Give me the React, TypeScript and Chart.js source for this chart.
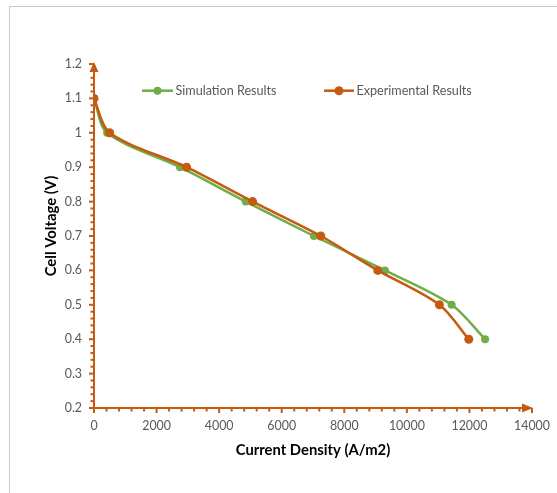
import React, { useEffect, useRef } from "react";
import { Chart, registerables } from "chart.js";

Chart.register(...registerables);

// ---- Data ----
const simCurrent = [0, 420, 2750, 4850, 7030, 9300, 11430, 12500];
const simVoltage = [1.1, 1.0, 0.9, 0.8, 0.7, 0.6, 0.5, 0.4];
const expCurrent = [0, 500, 2960, 5070, 7250, 9070, 11040, 11980];
const expVoltage = [1.1, 1.0, 0.9, 0.8, 0.7, 0.6, 0.5, 0.4];
const seriesNames = ["Simulation Results", "Experimental Results"];
const xTitle = "Current Density (A/m2)";
const yTitle = "Cell Voltage (V)";
const xMin = 0;
const xMax = 14000;
const xStep = 2000;
const xMinorStep = 400;
const yMin = 0.2;
const yMax = 1.2;
const yStep = 0.1;
const yMinorStep = 0.02;

const GREEN = "#70AD47";
const ORANGE = "#C55A11";
const FONT = "Lato, 'Open Sans', sans-serif";

const decorPlugin = {
  id: "decor",
  beforeDatasetsDraw(chart: any) {
    const { ctx, chartArea: ca, scales } = chart;
    const x = scales.x;
    const y = scales.y;
    const x0 = x.getPixelForValue(xMin);
    const y0 = y.getPixelForValue(yMin);
    ctx.save();
    ctx.strokeStyle = ORANGE;
    ctx.fillStyle = ORANGE;
    ctx.lineWidth = 2;
    ctx.lineCap = "butt";
    // x axis line
    ctx.beginPath();
    ctx.moveTo(x0 - 1, y0);
    ctx.lineTo(ca.right - 6, y0);
    ctx.stroke();
    ctx.beginPath();
    ctx.moveTo(ca.right + 1, y0);
    ctx.lineTo(ca.right - 10, y0 - 4.5);
    ctx.lineTo(ca.right - 10, y0 + 4.5);
    ctx.closePath();
    ctx.fill();
    // y axis line
    ctx.beginPath();
    ctx.moveTo(x0, y0 + 1);
    ctx.lineTo(x0, ca.top + 4);
    ctx.stroke();
    ctx.beginPath();
    ctx.moveTo(x0, ca.top - 2);
    ctx.lineTo(x0 - 4.5, ca.top + 8);
    ctx.lineTo(x0 + 4.5, ca.top + 8);
    ctx.closePath();
    ctx.fill();
    // x ticks
    const nx = Math.round((xMax - xMin) / xMinorStep);
    const perMajorX = Math.round(xStep / xMinorStep);
    for (let i = 0; i <= nx; i++) {
      const px = x.getPixelForValue(xMin + i * xMinorStep);
      if (i % perMajorX === 0) {
        ctx.fillRect(px - 1, y0, 2, 5);
      } else {
        ctx.fillRect(px - 1, y0 + 1, 2, 2.5);
      }
    }
    // y ticks
    const ny = Math.round((yMax - yMin) / yMinorStep);
    const perMajorY = Math.round(yStep / yMinorStep);
    for (let i = 0; i <= ny; i++) {
      const py = y.getPixelForValue(yMin + i * yMinorStep);
      if (i % perMajorY === 0) {
        ctx.fillRect(x0 - 5, py - 1, 5, 2);
      } else {
        ctx.fillRect(x0 - 3.5, py - 1, 2.5, 2);
      }
    }
    ctx.restore();
  },
  afterDraw(chart: any) {
    const { ctx, chartArea: ca } = chart;
    ctx.save();
    // legend
    const ly = 90.7;
    const items = [
      { color: GREEN, x1: 142, x2: 173, r: 4, tx: 175.5, label: seriesNames[0] },
      { color: ORANGE, x1: 324, x2: 354, r: 4.5, tx: 356.5, label: seriesNames[1] },
    ];
    ctx.font = `12.6px ${FONT}`;
    ctx.textBaseline = "middle";
    ctx.textAlign = "left";
    for (const it of items) {
      ctx.strokeStyle = it.color;
      ctx.fillStyle = it.color;
      ctx.lineWidth = 2.5;
      ctx.beginPath();
      ctx.moveTo(it.x1, ly);
      ctx.lineTo(it.x2, ly);
      ctx.stroke();
      ctx.beginPath();
      ctx.arc((it.x1 + it.x2) / 2, ly, it.r, 0, Math.PI * 2);
      ctx.fill();
      ctx.fillStyle = "#595959";
      ctx.fillText(it.label, it.tx, ly + 0.5);
    }
    // axis titles
    ctx.fillStyle = "#000000";
    ctx.font = `bold 14.8px ${FONT}`;
    ctx.textAlign = "center";
    ctx.textBaseline = "middle";
    ctx.fillText(xTitle, (ca.left + ca.right) / 2, 450.5);
    ctx.translate(51.5, 226);
    ctx.rotate(-Math.PI / 2);
    ctx.fillText(yTitle, 0, 0);
    ctx.restore();
  },
};

export default function App() {
  const ref = useRef<HTMLCanvasElement | null>(null);
  useEffect(() => {
    if (!ref.current) return;
    const chart = new Chart(ref.current, {
      type: "line",
      data: {
        datasets: [
          {
            label: seriesNames[0],
            data: simCurrent.map((v, i) => ({ x: v, y: simVoltage[i] })),
            borderColor: GREEN,
            backgroundColor: GREEN,
            pointBackgroundColor: GREEN,
            pointBorderColor: GREEN,
            borderWidth: 2.5,
            pointRadius: 4,
            pointBorderWidth: 0,
            tension: 0.3,
            fill: false,
            order: 1,
          },
          {
            label: seriesNames[1],
            data: expCurrent.map((v, i) => ({ x: v, y: expVoltage[i] })),
            borderColor: ORANGE,
            backgroundColor: ORANGE,
            pointBackgroundColor: ORANGE,
            pointBorderColor: ORANGE,
            borderWidth: 2.5,
            pointRadius: 4.5,
            pointBorderWidth: 0,
            tension: 0.3,
            fill: false,
            order: 0,
          },
        ],
      },
      options: {
        responsive: false,
        animation: false,
        devicePixelRatio: 1,
        layout: { padding: { top: 64, right: 25, left: 0, bottom: 0 } },
        plugins: {
          legend: { display: false },
          tooltip: { enabled: false },
          title: { display: false },
        },
        scales: {
          x: {
            type: "linear",
            min: xMin,
            max: xMax,
            border: { display: false },
            grid: {
              display: true,
              color: "rgba(0,0,0,0)",
              drawOnChartArea: false,
              drawTicks: true,
              tickLength: 8,
            },
            ticks: {
              stepSize: xStep,
              autoSkip: false,
              maxRotation: 0,
              padding: 3,
              color: "#595959",
              font: { family: FONT, size: 12.4 },
              callback: (v: any) => String(v),
            },
            afterFit: (s: any) => {
              s.height = 85;
            },
          },
          y: {
            type: "linear",
            min: yMin,
            max: yMax,
            border: { display: false },
            grid: {
              display: true,
              color: "rgba(0,0,0,0)",
              drawOnChartArea: false,
              drawTicks: true,
              tickLength: 8,
            },
            ticks: {
              stepSize: yStep,
              autoSkip: false,
              padding: 4,
              color: "#595959",
              font: { family: FONT, size: 12.4 },
              callback: (v: any) => String(Math.round(Number(v) * 10) / 10),
            },
            afterFit: (s: any) => {
              s.width = 94;
            },
          },
        },
      },
      plugins: [decorPlugin],
    } as any);
    return () => chart.destroy();
  }, []);

  return (
    <div
      style={{
        position: "fixed",
        left: 0,
        top: 0,
        width: 557,
        height: 493,
        overflow: "hidden",
        background: "#ffffff",
      }}
    >
      <div
        style={{
          position: "absolute",
          left: 9,
          top: 6,
          width: 700,
          height: 700,
          borderTop: "1px solid #c9c9c9",
          borderLeft: "1px solid #c9c9c9",
          boxSizing: "border-box",
        }}
      />
      <canvas
        ref={ref}
        width={557}
        height={493}
        style={{ position: "absolute", left: 0, top: 0, width: 557, height: 493 }}
      />
    </div>
  );
}
